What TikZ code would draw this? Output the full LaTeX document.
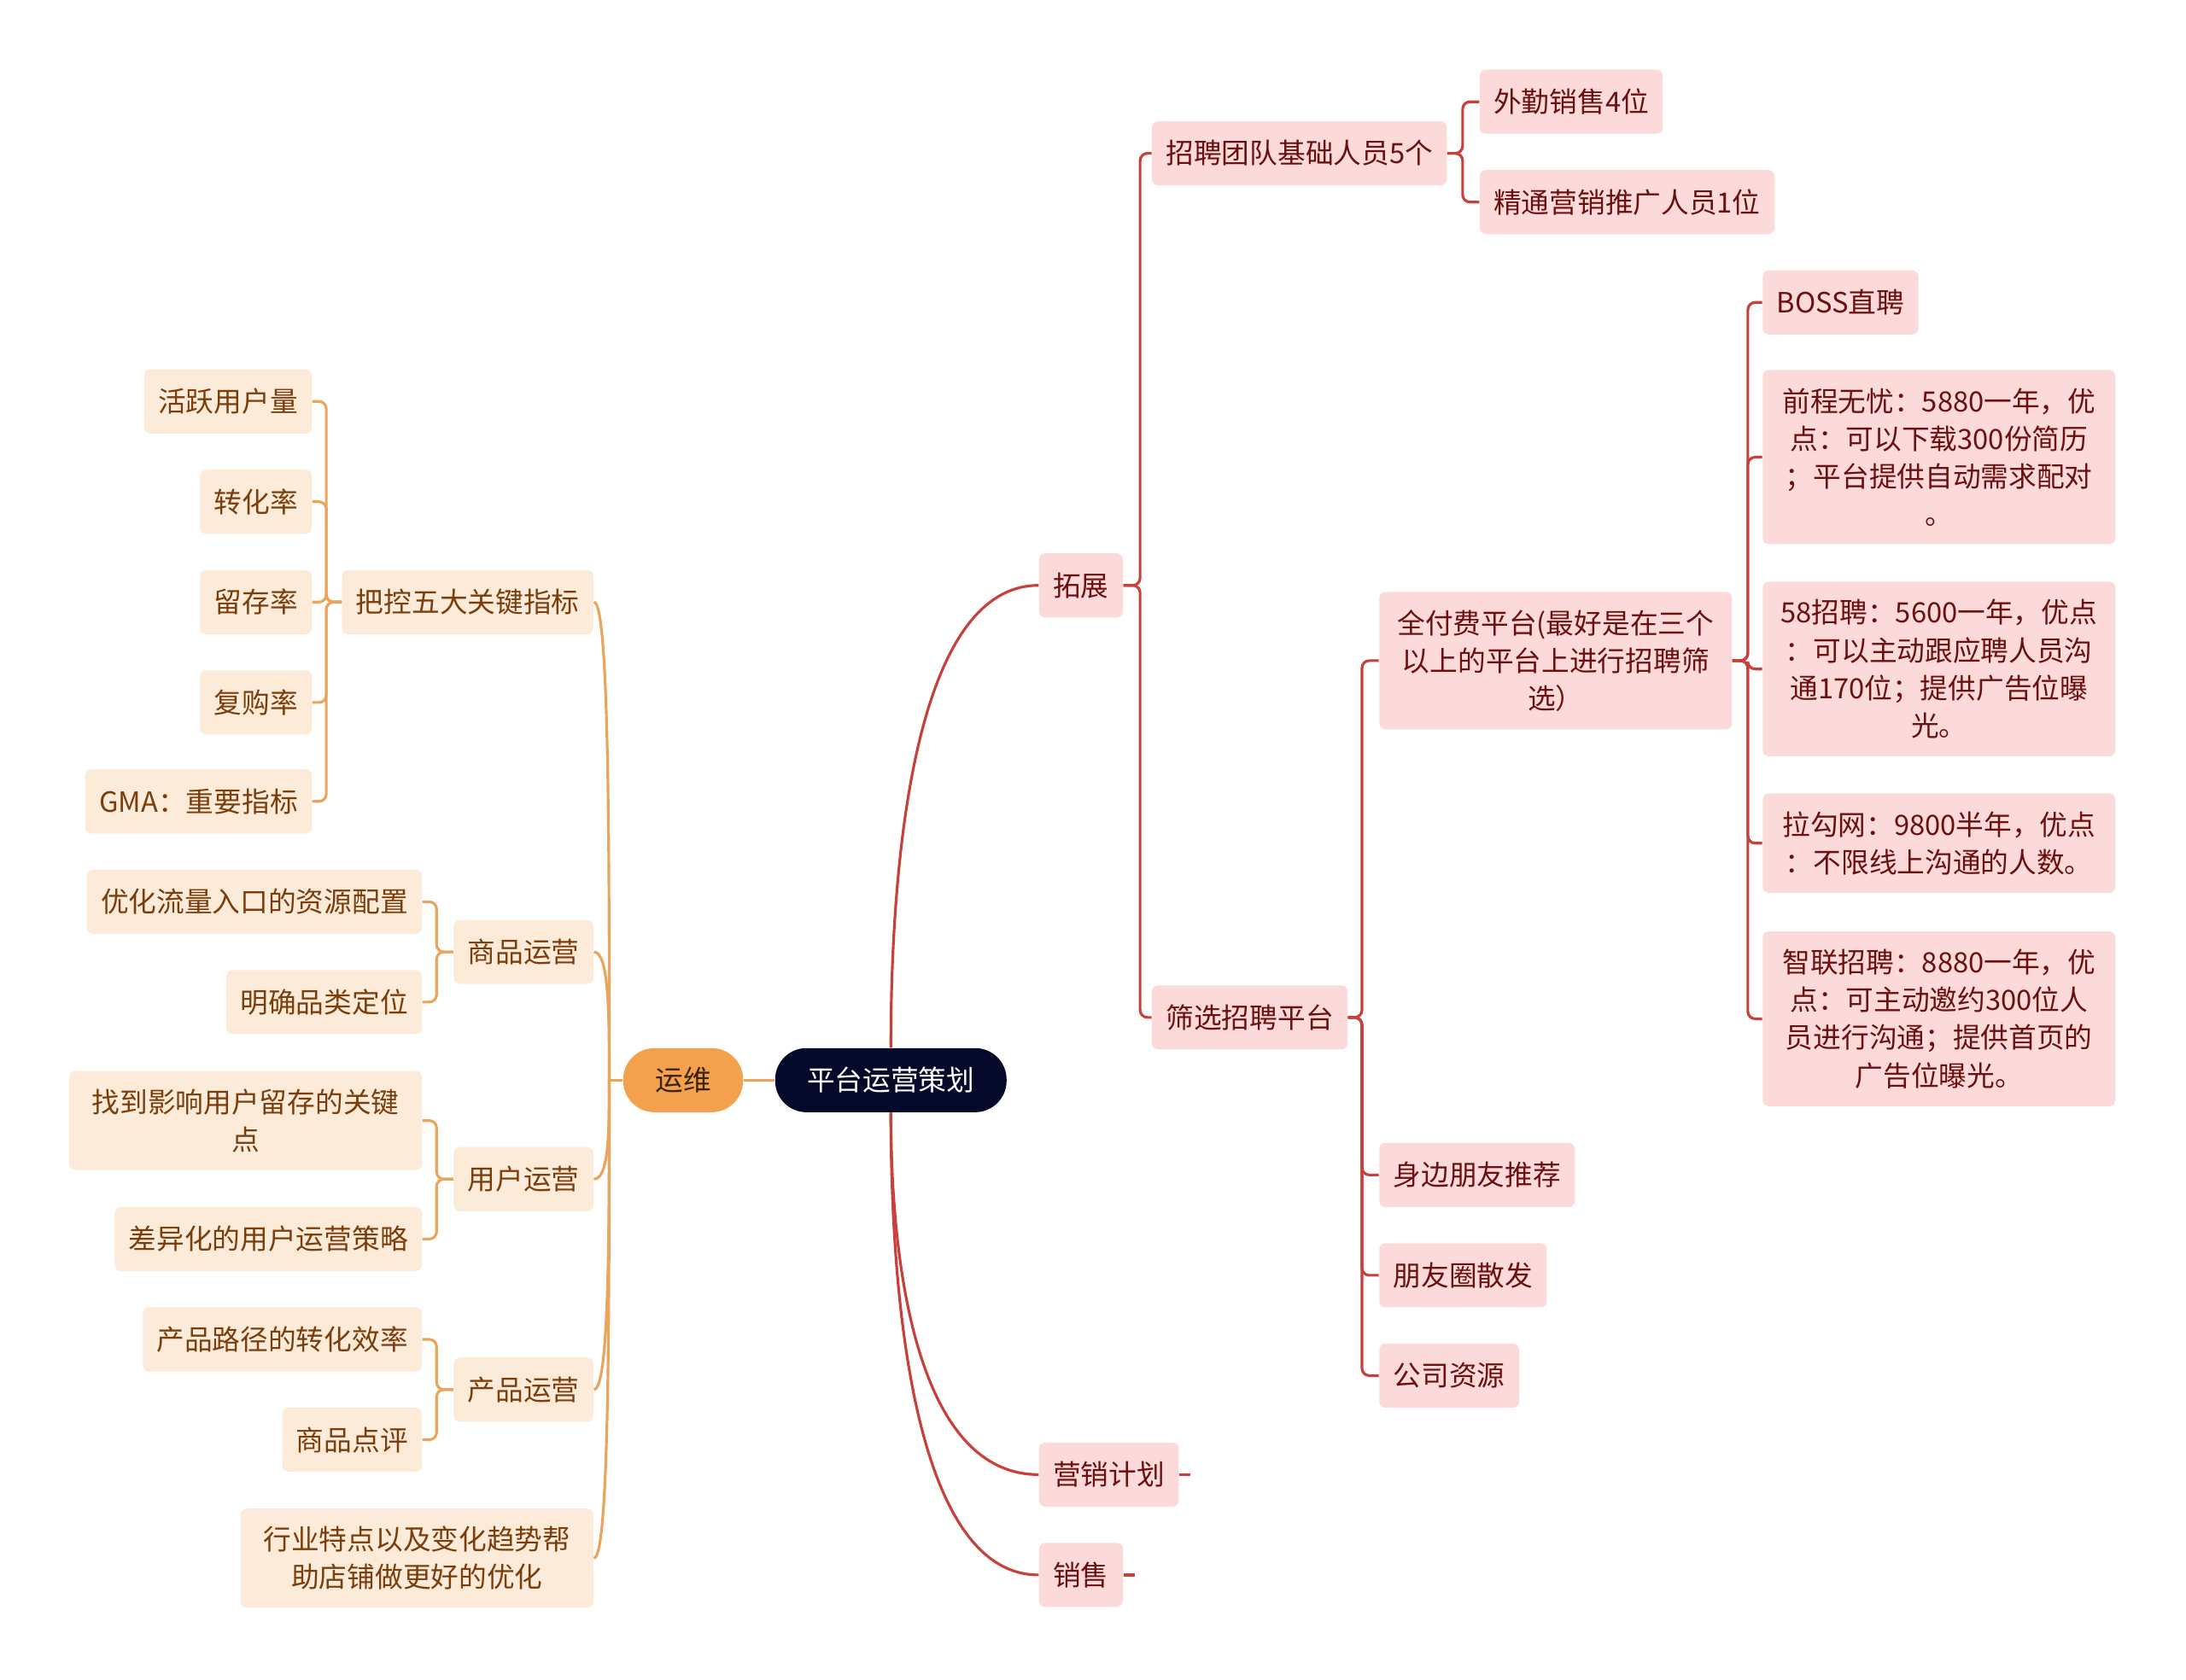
\documentclass[tikz,border=0pt]{standalone}
\usepackage{fontspec}
\setmainfont{Noto Sans CJK SC}
\usepackage{tikz}

\definecolor{rootbg}{HTML}{050A2A}
\definecolor{ywbg}{HTML}{F4A14E}
\definecolor{ywtx}{HTML}{3A2208}
\definecolor{rbg}{HTML}{FCDADA}
\definecolor{rtx}{HTML}{6B1010}
\definecolor{redln}{HTML}{C8403C}
\definecolor{lbg}{HTML}{FDEBDA}
\definecolor{ltx}{HTML}{7A3E0C}
\definecolor{orgln}{HTML}{EBA45C}

\begin{document}
\begin{tikzpicture}[x=0.2mm, y=-0.2mm,
    every node/.style={font=\fontsize{11.4pt}{15.4pt}\selectfont},
    root/.style={rectangle, rounded corners=4.5mm, fill=rootbg, text=white,
                 minimum width=33.2mm, minimum height=9.2mm},
    yw/.style={rectangle, rounded corners=4.5mm, fill=ywbg, text=ywtx,
               minimum width=17.2mm, minimum height=9.2mm},
    rn/.style={rectangle, rounded corners=2.5pt, fill=rbg, text=rtx,
               inner xsep=2mm, inner ysep=2.55mm, minimum height=9.2mm, anchor=west},
    rw/.style={rn, text width=46.6mm, align=center},
    ln/.style={rectangle, rounded corners=2.5pt, fill=lbg, text=ltx,
               inner xsep=2mm, inner ysep=2.55mm, minimum height=9.2mm, anchor=east},
    lw/.style={ln, text width=46.6mm, align=center},
    re/.style={redln, line width=1.1pt, rounded corners=3pt},
    le/.style={orgln, line width=1.1pt, rounded corners=3pt},
  ]
  \fill[white] (0,0) rectangle (1568,1205);
  \useasboundingbox (0,0) rectangle (1568,1205);

  \node[root] (root) at (639,775) {平台运营策划};
  \node[yw] (yw) at (490,775) {运维};

  % right side
  \node[rn] (tz) at (745,420) {拓展};
  \node[rn] (yx) at (745,1058) {营销计划};
  \node[rn] (xs) at (745,1130) {销售};
  \node[rn] (zp) at (826,110) {招聘团队基础人员5个};
  \node[rn] (sx) at (826,730) {筛选招聘平台};
  \node[rn] (wq) at (1061,73) {外勤销售4位};
  \node[rn] (jt) at (1061,145) {精通营销推广人员1位};
  \node[rw] (qf) at (989,474) {全付费平台(最好是在三个\\以上的平台上进行招聘筛\\选）};
  \node[rn] (sb) at (989,843) {身边朋友推荐};
  \node[rn] (py) at (989,915) {朋友圈散发};
  \node[rn] (gs) at (989,987) {公司资源};
  \node[rn] (boss) at (1264,217) {BOSS直聘};
  \node[rw] (qc) at (1264,328) {前程无忧：5880一年，优\\点：可以下载300份简历\\；平台提供自动需求配对\\。};
  \node[rw] (wb) at (1264,480) {58招聘：5600一年，优点\\：可以主动跟应聘人员沟\\通170位；提供广告位曝\\光。};
  \node[rw] (lg) at (1264,605) {拉勾网：9800半年，优点\\：不限线上沟通的人数。};
  \node[rw] (zl) at (1264,731) {智联招聘：8880一年，优\\点：可主动邀约300位人\\员进行沟通；提供首页的\\广告位曝光。};

  % left side
  \node[ln] (bk) at (426,432) {把控五大关键指标};
  \node[ln] (sp) at (426,683) {商品运营};
  \node[ln] (yh) at (426,846) {用户运营};
  \node[ln] (cp) at (426,997) {产品运营};
  \node[lw] (hy) at (426,1118) {行业特点以及变化趋势帮\\助店铺做更好的优化};
  \node[ln] (hp) at (224,288) {活跃用户量};
  \node[ln] (zh) at (224,360) {转化率};
  \node[ln] (lc) at (224,432) {留存率};
  \node[ln] (fg) at (224,504) {复购率};
  \node[ln] (gma) at (224,575) {GMA：重要指标};
  \node[ln] (yl) at (303,647) {优化流量入口的资源配置};
  \node[ln] (mq) at (303,719) {明确品类定位};
  \node[lw] (zd) at (303,804) {找到影响用户留存的关键\\点};
  \node[ln] (cy) at (303,889) {差异化的用户运营策略};
  \node[ln] (lj) at (303,961) {产品路径的转化效率};
  \node[ln] (dp) at (303,1033) {商品点评};

  % connectors
  \draw[le] (yw) -- (root);
  \coordinate (ywhub) at (437,775);
  \draw[le] (yw.west) -- (ywhub);
  \foreach \n/\d in {bk/-171, sp/-46, yh/35, cp/111, hy/171}
    \draw[le] (ywhub) .. controls +(0,\d) and +(11,0) .. (\n.east);
  \draw[re] (root) .. controls +(0,-175) and +(-85,0) .. (tz.west);
  \draw[re] (root) .. controls +(0,140) and +(-85,0) .. (yx.west);
  \draw[re] (root) .. controls +(0,175) and +(-85,0) .. (xs.west);
  \draw[re] (yx.east) -- ++(8,0);
  \draw[re] (xs.east) -- ++(8,0);

  \foreach \n in {zp,sx} \draw[re] (tz.east) -- ++(12,0) |- (\n.west);
  \foreach \n in {wq,jt} \draw[re] (zp.east) -- ++(11,0) |- (\n.west);
  \foreach \n in {qf,sb,py,gs} \draw[re] (sx.east) -- ++(10,0) |- (\n.west);
  \foreach \n in {boss,qc,wb,lg,zl} \draw[re] (qf.east) -- ++(11,0) |- (\n.west);
  \foreach \n in {hp,zh,lc,fg,gma} \draw[le] (bk.west) -- ++(-11,0) |- (\n.east);
  \foreach \n in {yl,mq} \draw[le] (sp.west) -- ++(-12,0) |- (\n.east);
  \foreach \n in {zd,cy} \draw[le] (yh.west) -- ++(-12,0) |- (\n.east);
  \foreach \n in {lj,dp} \draw[le] (cp.west) -- ++(-12,0) |- (\n.east);
\end{tikzpicture}
\end{document}
